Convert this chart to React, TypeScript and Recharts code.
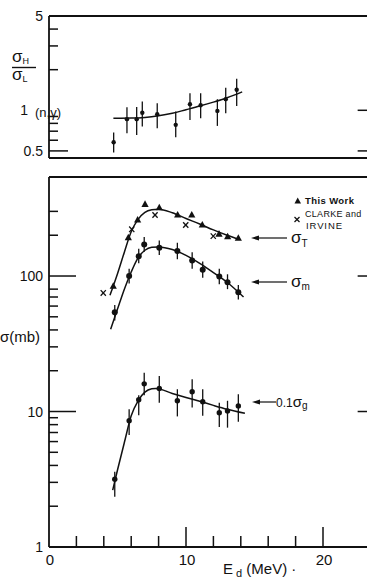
import React from 'react';
import { ComposedChart, Line, Scatter, XAxis, YAxis, ErrorBar } from 'recharts';

// upper panel: sigma_H / sigma_L for (n,gamma)
const ratioEnergy = [4.72, 5.69, 6.4, 6.81, 7.9, 9.25, 10.29, 11.07, 12.29, 12.9, 13.7];
const ratioValue = [0.58, 0.86, 0.86, 0.96, 0.935, 0.78, 1.11, 1.09, 0.99, 1.21, 1.42];
const ratioLow = [0.486, 0.676, 0.657, 0.757, 0.736, 0.632, 0.849, 0.873, 0.766, 0.951, 1.077];
const ratioHigh = [0.684, 1.054, 1.06, 1.16, 1.127, 0.978, 1.337, 1.337, 1.208, 1.47, 1.71];
const ratioFitEnergy = [4.7, 6, 7, 8, 9, 10, 11, 12, 13, 14.1];
const ratioFitValue = [0.873, 0.875, 0.885, 0.91, 0.95, 1.01, 1.075, 1.15, 1.24, 1.37];

// lower panel: cross sections (mb)
const energy = [4.8, 5.85, 6.55, 6.95, 8.05, 9.37, 10.45, 11.22, 12.43, 13.03, 13.82];
const sigmaM = [54, 100, 140, 171, 162, 153, 130, 111, 99, 90, 76];
const sigmaMLow = [47, 88, 124, 151, 143, 133, 113, 97, 87, 80, 67];
const sigmaMHigh = [61, 113, 159, 194, 183, 176, 150, 128, 113, 103, 86];
const sigmaG = [3.16, 8.55, 12.2, 16, 14.8, 12, 14, 11.8, 9.8, 10.1, 11];
const sigmaGLow = [2.35, 6.7, 9.4, 13.2, 11.6, 9.2, 10.7, 9.3, 7.7, 7.6, 8.4];
const sigmaGHigh = [3.6, 10.4, 13.2, 19.3, 18.3, 14.6, 17.3, 14.6, 11.6, 12, 13.4];
const sigmaTEnergy = [4.69, 5.79, 6.47, 7.01, 8.05, 9.39, 10.42, 11.19, 12.41, 13.04, 13.82];
const sigmaT = [84, 192, 259, 338, 319, 282, 282, 238, 204, 195, 190];
const clarkeEnergy = [3.96, 6.04, 7.74, 9.98, 11.99];
const clarkeSigmaT = [75, 221, 282, 238, 197];

const fitTEnergy = [4.45, 5, 5.5, 6, 6.5, 7, 7.5, 8, 9, 10, 11, 12, 13, 13.9];
const fitT = [72, 104, 150, 212, 262, 295, 308, 311, 293, 266, 242, 219, 200, 186];
const fitMEnergy = [4.5, 5, 5.5, 6, 6.5, 7, 7.5, 8, 9, 10, 11, 12, 13, 14.2];
const fitM = [40.5, 57, 80, 107, 136, 155, 163, 164, 157, 142, 124, 106, 90, 70];
const fitGEnergy = [4.65, 5, 5.5, 6, 6.5, 7, 7.5, 7.8, 9, 10, 11, 12, 13, 14.3];
const fitG = [2.63, 3.7, 5.9, 9.3, 12, 13.9, 14.7, 14.8, 13.6, 12.7, 11.9, 11.1, 10.4, 9.7];

// ticks
const topXTicks = [2, 4, 6, 8, 10, 12, 14, 16, 18, 20];
const bottomXTicks = [0, 2, 4, 6, 8, 10, 12, 14, 16, 18, 20];
const xTickLabels: Record<number, string> = { 0: '0', 10: '10', 20: '20' };
const ratioTicks = [5, 4, 3, 2, 1, 0.9, 0.8, 0.7, 0.6, 0.5];
const ratioTickLabels: Record<number, string> = { 5: '5', 1: '1', 0.5: '0.5' };
const ratioRightTicks = [1, 0.5];
const sigmaTicks = [300, 200, 100, 80, 70, 60, 50, 40, 30, 20, 10, 9, 8, 7, 6, 5, 4, 3, 2, 1];
const sigmaTickLabels: Record<number, string> = { 100: '100', 10: '10', 1: '1' };
const sigmaRightTicks = [100, 10];

const rows = (xs: number[], ys: number[], lo?: number[], hi?: number[]) =>
  xs.map((x, i) => ({
    x,
    y: ys[i],
    err: lo && hi ? [ys[i] - lo[i], hi[i] - ys[i]] : undefined,
  }));

const ratioData = rows(ratioEnergy, ratioValue, ratioLow, ratioHigh);
const ratioFit = rows(ratioFitEnergy, ratioFitValue);
const mData = rows(energy, sigmaM, sigmaMLow, sigmaMHigh);
const gData = rows(energy, sigmaG, sigmaGLow, sigmaGHigh);
const tData = rows(sigmaTEnergy, sigmaT);
const clarkeData = rows(clarkeEnergy, clarkeSigmaT);
const tFit = rows(fitTEnergy, fitT);
const mFit = rows(fitMEnergy, fitM);
const gFit = rows(fitGEnergy, fitG);

const FONT = '"Liberation Sans", Arial, sans-serif';
const INK = '#111';
const X_DOMAIN = [0, 24.5];

const dot = (r: number) => (p: any) => <circle cx={p.cx} cy={p.cy} r={r} fill={INK} />;
const triangle = (p: any) => (
  <polygon
    points={`${p.cx},${p.cy - 4} ${p.cx - 3.6},${p.cy + 2.6} ${p.cx + 3.6},${p.cy + 2.6}`}
    fill={INK}
  />
);
const cross = (p: any) => (
  <g stroke={INK} strokeWidth={1.3}>
    <line x1={p.cx - 2.6} y1={p.cy - 2.8} x2={p.cx + 2.6} y2={p.cy + 2.8} />
    <line x1={p.cx + 2.6} y1={p.cy - 2.8} x2={p.cx - 2.6} y2={p.cy + 2.8} />
  </g>
);

// inward ticks, labels outside; the upper "1" sits further left to leave room for (n,γ)
const leftTick = (
  labels: Record<number, string>,
  longTicks: number[],
  longLen: number,
  bare: number[],
  farLabels: number[] = []
) =>
  (p: any) => {
    const v = p.payload.value;
    const len = bare.includes(v) ? 0 : longTicks.includes(v) ? longLen : 9;
    const label = labels[v];
    const gap = farLabels.includes(v) ? 21 : 6;
    return (
      <g>
        {len > 0 && <line x1={p.x} y1={p.y} x2={p.x + len} y2={p.y} stroke={INK} strokeWidth={1.5} />}
        {label && (
          <text x={p.x - gap} y={p.y + 5} textAnchor="end" fontSize={14} fontFamily={FONT} fill={INK}>
            {label}
          </text>
        )}
      </g>
    );
  };

const rightTick = (p: any) => (
  <line x1={p.x - 27} y1={p.y} x2={p.x} y2={p.y} stroke={INK} strokeWidth={1.5} />
);

const topTick = (p: any) => {
  const len = p.payload.value % 10 === 0 ? 23 : 7;
  return <line x1={p.x} y1={p.y} x2={p.x} y2={p.y + len} stroke={INK} strokeWidth={1.5} />;
};

const bottomTick = (p: any) => {
  const v = p.payload.value;
  const len = v === 0 ? 0 : v % 10 === 0 ? 20 : 11;
  const label = xTickLabels[v];
  return (
    <g>
      {len > 0 && <line x1={p.x} y1={p.y} x2={p.x} y2={p.y - len} stroke={INK} strokeWidth={1.5} />}
      {label && (
        <text x={p.x + 1} y={p.y + 18} textAnchor="middle" fontSize={15} fontFamily={FONT} fill={INK}>
          {label}
        </text>
      )}
    </g>
  );
};

const axisCommon = { tickSize: 0, tickMargin: 0, tickLine: false, interval: 0 as const, allowDataOverflow: true };
const axisLine = { stroke: INK, strokeWidth: 1.8 };

export default function App() {
  return (
    <div style={{ position: 'absolute', left: 0, top: 0, width: 367, height: 578, overflow: 'hidden', background: '#fff' }}>
      <div style={{ position: 'absolute', left: 0, top: 0 }}>
        <ComposedChart width={400} height={170} margin={{ top: 15, right: 14.35, bottom: 11, left: 48 }}>
          <XAxis xAxisId={0} dataKey="x" type="number" domain={X_DOMAIN} height={1} tick={false} axisLine={axisLine} {...axisCommon} />
          <XAxis xAxisId="top" orientation="top" type="number" domain={X_DOMAIN} height={1} ticks={topXTicks} tick={topTick} axisLine={axisLine} {...axisCommon} />
          <YAxis yAxisId={0} dataKey="y" type="number" scale="log" domain={[0.443, 5]} width={1} ticks={ratioTicks}
            tick={leftTick(ratioTickLabels, [0.5], 19, [5, 1], [1])} axisLine={axisLine} {...axisCommon} />
          <YAxis yAxisId="right" orientation="right" type="number" scale="log" domain={[0.443, 5]} width={1}
            ticks={ratioRightTicks} tick={rightTick} axisLine={axisLine} {...axisCommon} />
          <Line data={ratioFit} dataKey="y" type="monotone" dot={false} stroke={INK} strokeWidth={1.5} isAnimationActive={false} />
          <Scatter data={ratioData} dataKey="y" shape={dot(2.2)} isAnimationActive={false}>
            <ErrorBar dataKey="err" direction="y" width={0} stroke={INK} strokeWidth={1.3} isAnimationActive={false} />
          </Scatter>
        </ComposedChart>
      </div>

      <div style={{ position: 'absolute', left: 0, top: 170 }}>
        <ComposedChart width={400} height={408} margin={{ top: 6, right: 14.35, bottom: 30, left: 48 }}>
          <XAxis xAxisId={0} dataKey="x" type="number" domain={X_DOMAIN} height={1} ticks={bottomXTicks} tick={bottomTick} axisLine={axisLine} {...axisCommon} />
          <XAxis xAxisId="top" orientation="top" type="number" domain={X_DOMAIN} height={1} tick={false} axisLine={axisLine} {...axisCommon} />
          <YAxis yAxisId={0} dataKey="y" type="number" scale="log" domain={[1, 538]} width={1} ticks={sigmaTicks}
            tick={leftTick(sigmaTickLabels, [100, 10], 27, [1])} axisLine={axisLine} {...axisCommon} />
          <YAxis yAxisId="right" orientation="right" type="number" scale="log" domain={[1, 538]} width={1}
            ticks={sigmaRightTicks} tick={rightTick} axisLine={axisLine} {...axisCommon} />
          <Line data={tFit} dataKey="y" type="monotone" dot={false} stroke={INK} strokeWidth={1.5} isAnimationActive={false} />
          <Line data={mFit} dataKey="y" type="monotone" dot={false} stroke={INK} strokeWidth={1.5} isAnimationActive={false} />
          <Line data={gFit} dataKey="y" type="monotone" dot={false} stroke={INK} strokeWidth={1.5} isAnimationActive={false} />
          <Scatter data={tData} dataKey="y" shape={triangle} isAnimationActive={false} />
          <Scatter data={clarkeData} dataKey="y" shape={cross} isAnimationActive={false} />
          <Scatter data={mData} dataKey="y" shape={dot(3)} isAnimationActive={false}>
            <ErrorBar dataKey="err" direction="y" width={0} stroke={INK} strokeWidth={1.3} isAnimationActive={false} />
          </Scatter>
          <Scatter data={gData} dataKey="y" shape={dot(2.7)} isAnimationActive={false}>
            <ErrorBar dataKey="err" direction="y" width={0} stroke={INK} strokeWidth={1.3} isAnimationActive={false} />
          </Scatter>
        </ComposedChart>
      </div>

      <svg width={367} height={578} style={{ position: 'absolute', left: 0, top: 0, pointerEvents: 'none' }}
        fontFamily={FONT} fill={INK}>
        {/* upper panel y label */}
        <text x={12} y={62} fontSize={17}>σ<tspan dy={2} fontSize={9}>H</tspan></text>
        <line x1={12} y1={67.5} x2={36} y2={67.5} stroke={INK} strokeWidth={1.4} />
        <text x={12} y={80} fontSize={17}>σ<tspan dy={2} fontSize={9}>L</tspan></text>
        <text x={35} y={117} fontSize={13}>(n,γ)</text>

        {/* lower panel y label */}
        <text x={0} y={342} fontSize={15}>σ(mb)</text>

        {/* x label */}
        <text x={223} y={574} fontSize={15}>E<tspan dy={3} fontSize={11}> d</tspan><tspan dy={-3}> (MeV) ·</tspan></text>

        {/* curve annotations */}
        <line x1={256} y1={238} x2={287} y2={238} stroke={INK} strokeWidth={1.2} />
        <polygon points="251,238 259,235.5 259,240.5" />
        <text x={291} y={243} fontSize={17}>σ<tspan dy={4} fontSize={10}>T</tspan></text>

        <line x1={256} y1={282} x2={287} y2={282} stroke={INK} strokeWidth={1.2} />
        <polygon points="251,282 259,279.5 259,284.5" />
        <text x={291} y={287} fontSize={17}>σ<tspan dy={3} fontSize={10}>m</tspan></text>

        <line x1={257} y1={402} x2={276} y2={402} stroke={INK} strokeWidth={1.2} />
        <polygon points="252,402 260,399.5 260,404.5" />
        <text x={276} y={407} fontSize={12}>0.1<tspan fontSize={15}>σ</tspan><tspan dy={2} fontSize={10}>g</tspan></text>

        {/* legend */}
        <polygon points="297.7,197.5 294.5,203.5 301,203.5" />
        <text x={305} y={204} fontSize={9.5} fontWeight="bold" letterSpacing={0.4}>This Work</text>
        <g stroke={INK} strokeWidth={1.3}>
          <line x1={294.5} y1={217} x2={299.5} y2={222} />
          <line x1={299.5} y1={217} x2={294.5} y2={222} />
        </g>
        <text x={305} y={217} fontSize={9} letterSpacing={0.3}>CLARKE and</text>
        <text x={306} y={229} fontSize={9.5} letterSpacing={0.9}>IRVINE</text>
      </svg>
    </div>
  );
}
